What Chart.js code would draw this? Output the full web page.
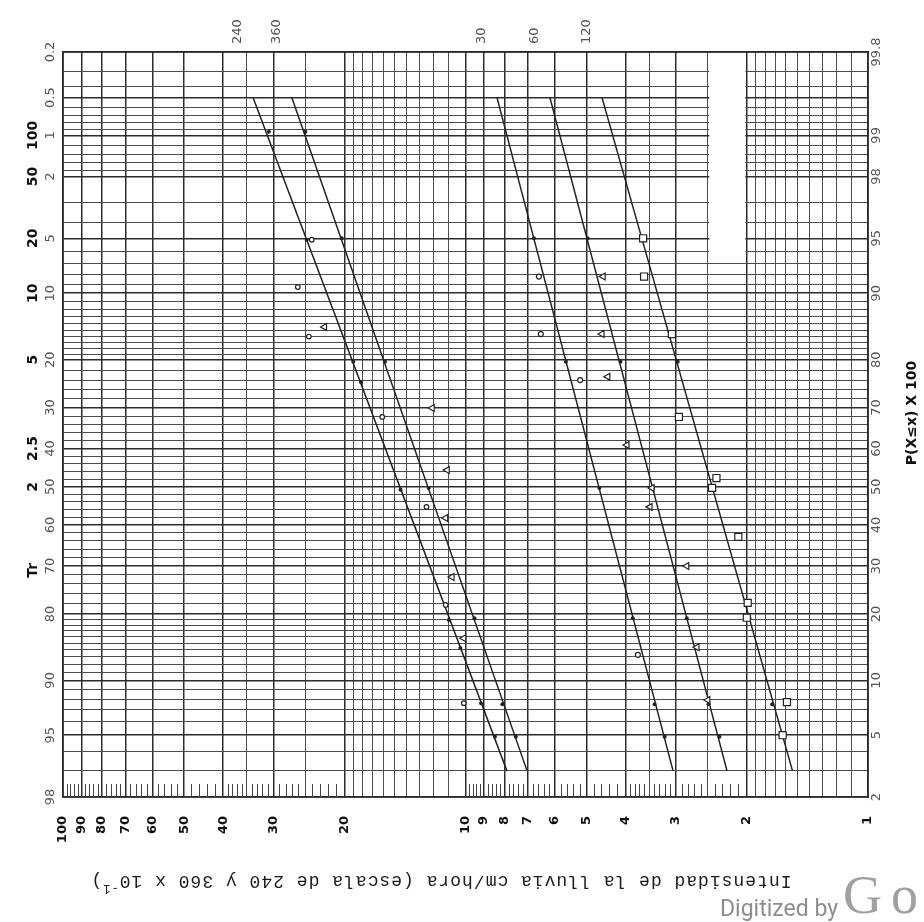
<!DOCTYPE html>
<html>
<head>
<meta charset="utf-8">
<script src="https://cdn.jsdelivr.net/npm/chart.js@4.4.1/dist/chart.umd.min.js"></script>
<style>
  html, body { margin: 0; padding: 0; background: #ffffff; }
  canvas { display: block; }
</style>
</head>
<body>
<canvas id="c" width="924" height="922"></canvas>
<script>
// ---------------- data ----------------
const durations = ['240', '360', '30', '60', '120'];          // minutes (line labels)

// fitted straight lines: intensity (paper scale) at P = 99.5 % and at P = 3 %
const lineProb = [99.5, 3];
const line240 = [33.7, 7.89];
const line360 = [27.0, 7.03];
const line30  = [8.35, 3.05];
const line60  = [6.17, 2.24];
const line120 = [4.58, 1.54];

// solid points lying on the fitted lines
const dot240Val  = [30.8, 24.8, 19.0, 18.2, 14.5, 11.0, 10.3, 9.15, 8.45];
const dot240Prob = [99.06, 94.9, 79.6, 75.6, 49.2, 18.9, 14.3, 7.6, 4.9];
const dot360Val  = [25.0, 20.3, 15.85, 12.35, 9.5, 8.1, 7.5];
const dot360Prob = [99.06, 95.0, 79.6, 49.7, 19.2, 7.5, 4.9];
const dotProb    = [95.0, 79.6, 49.7, 19.2, 7.5, 4.9];
const dot30Val   = [6.76, 5.63, 4.65, 3.84, 3.39, 3.20];
const dot60Val   = [4.97, 4.12, 3.42, 2.82, 2.49, 2.34];
const dot120Val  = [3.63, 2.97, 2.43, 1.97, 1.73, 1.63];

// observed values (open symbols)
const obs240Val  = [24.1, 26.1, 24.5, 16.1, 12.5, 11.2, 10.1];
const obs240Prob = [94.9, 90.7, 84.0, 67.8, 44.7, 21.7, 7.6];
const obs360Val  = [22.4, 12.1, 11.1, 11.2, 10.8, 10.1];
const obs360Prob = [85.5, 69.9, 54.4, 41.8, 27.5, 15.8];
const obs30Val   = [6.57, 6.50, 5.19, 3.73];
const obs30Prob  = [91.8, 84.4, 76.0, 13.3];
const obs60Val   = [4.55, 4.58, 4.43, 3.97, 3.44, 3.48, 2.82, 2.66, 2.50];
const obs60Prob  = [91.8, 84.4, 76.7, 60.9, 49.7, 44.7, 30.0, 14.4, 7.9];
const obs120Val  = [3.62, 3.60, 3.07, 2.95, 2.38, 2.44, 2.10, 1.99, 2.00, 1.59, 1.63];
const obs120Prob = [95.0, 91.8, 84.4, 67.8, 52.3, 49.7, 37.0, 22.1, 19.3, 7.7, 5.0];

// ---------------- axis ticks / paper rulings ----------------
const xGrid = [1, 1.1, 1.2, 1.3, 1.4, 1.5, 1.6, 1.7, 1.8, 1.9, 2, 2.5, 3, 3.5, 4, 5, 6, 7, 8, 9,
               10, 11, 12, 13, 14, 15, 16, 17, 18, 19, 20, 25, 30, 35, 40, 50, 60, 70, 80, 90, 100];
const xLabelVals = [1, 2, 3, 4, 5, 6, 7, 8, 9, 10, 20, 30, 40, 50, 60, 70, 80, 90, 100];
const probGrid = [2, 3, 4, 5, 6, 7, 8, 9, 10, 11, 12, 13, 14, 15, 16, 17, 18, 19, 20,
  22, 24, 26, 28, 30, 32, 34, 36, 38, 40, 42, 44, 46, 48, 50, 52, 54, 56, 58, 60,
  62, 64, 66, 68, 70, 72, 74, 76, 78, 80, 81, 82, 83, 84, 85, 86, 87, 88, 89, 90,
  91, 92, 93, 94, 95, 96, 97, 98, 98.2, 98.4, 98.6, 98.8, 99, 99.1, 99.2, 99.3,
  99.4, 99.5, 99.6, 99.7, 99.8];
const probRightLabels = [2, 5, 10, 20, 30, 40, 50, 60, 70, 80, 90, 95, 98, 99, 99.8];
const probLeftLabels  = [2, 5, 10, 20, 30, 40, 50, 60, 70, 80, 90, 95, 98, 99, 99.5, 99.8];
const trProb   = [99, 98, 95, 90, 80, 60, 50, 29];
const trLabels = ['100', '50', '20', '10', '5', '2.5', '2', 'Tr'];

// ---------------- helpers ----------------
function probit(p) {
  const a = [-3.969683028665376e+01, 2.209460984245205e+02, -2.759285104469687e+02, 1.383577518672690e+02, -3.066479806614716e+01, 2.506628277459239e+00];
  const b = [-5.447609879822406e+01, 1.615858368580409e+02, -1.556989798598866e+02, 6.680131188771972e+01, -1.328068155288572e+01];
  const c = [-7.784894002430293e-03, -3.223964580411365e-01, -2.400758277161838e+00, -2.549732539343734e+00, 4.374664141464968e+00, 2.938163982698783e+00];
  const d = [7.784695709041462e-03, 3.224671290700398e-01, 2.445134137142996e+00, 3.754408661907416e+00];
  const pl = 0.02425, ph = 1 - pl;
  let q, r;
  if (p < pl) {
    q = Math.sqrt(-2 * Math.log(p));
    return (((((c[0]*q+c[1])*q+c[2])*q+c[3])*q+c[4])*q+c[5]) / ((((d[0]*q+d[1])*q+d[2])*q+d[3])*q+1);
  }
  if (p > ph) {
    q = Math.sqrt(-2 * Math.log(1 - p));
    return -(((((c[0]*q+c[1])*q+c[2])*q+c[3])*q+c[4])*q+c[5]) / ((((d[0]*q+d[1])*q+d[2])*q+d[3])*q+1);
  }
  q = p - 0.5; r = q * q;
  return (((((a[0]*r+a[1])*r+a[2])*r+a[3])*r+a[4])*r+a[5])*q / (((((b[0]*r+b[1])*r+b[2])*r+b[3])*r+b[4])*r+1);
}
const Z = p => probit(p / 100);
const pts = (vals, probs) => vals.map((v, i) => ({ x: v, y: Z(probs[i]) }));
const fmt = v => String(+v.toFixed(1));

const zMin = Z(probGrid[0]);
const zMax = Z(probGrid[probGrid.length - 1]);

const INK = '#222222';
const GRID = '#4c4c4c';
const GRID_MAJOR = '#2c2c2c';

Chart.defaults.font.family = "'DejaVu Sans', sans-serif";

// minor ruling ticks along the bottom edge (paper decoration)
const minorTicks = [];
[[2, 4, 0.1], [4, 10, 0.2], [20, 40, 1], [40, 100, 2]].forEach(([a, b, s]) => {
  for (let v = a + s; v < b - 1e-9; v += s) {
    const vv = +v.toFixed(2);
    if (!xGrid.includes(vv)) minorTicks.push(vv);
  }
});

const paperPlugin = {
  id: 'paper',
  beforeDatasetsDraw(chart) {
    const { ctx, chartArea: a, scales } = chart;
    const x = scales.x, y = scales.y;
    ctx.save();
    // blank strip on the scanned sheet
    const xl = x.getPixelForValue(2.5), xr = x.getPixelForValue(2);
    const yb = y.getPixelForValue(Z(93.5));
    ctx.fillStyle = '#ffffff';
    ctx.fillRect(xl + 1.5, a.top + 1, xr - xl - 3, yb - a.top - 1);
    // minor ticks
    ctx.strokeStyle = '#444';
    ctx.lineWidth = 1;
    ctx.beginPath();
    for (const v of minorTicks) {
      const px = Math.round(x.getPixelForValue(v)) + 0.5;
      ctx.moveTo(px, a.bottom);
      ctx.lineTo(px, a.bottom - 13);
    }
    ctx.stroke();
    ctx.restore();
  },
  afterDraw(chart) {
    const { ctx } = chart;
    ctx.save();
    // bottom axis title, printed upside down on the sheet
    ctx.translate(441, 881);
    ctx.rotate(Math.PI);
    ctx.fillStyle = '#1c1c1c';
    ctx.textBaseline = 'middle';
    ctx.textAlign = 'left';
    try { ctx.letterSpacing = '1px'; } catch (e) {}
    const main = 'Intensidad de la lluvia cm/hora (escala de 240 y 360 x 10';
    ctx.font = '18px "Liberation Mono", monospace';
    const w1 = ctx.measureText(main).width;
    const w3 = ctx.measureText(')').width;
    ctx.font = '12px "Liberation Mono", monospace';
    const w2 = ctx.measureText('-1').width;
    const x0 = -(w1 + w2 + w3) / 2;
    ctx.font = '18px "Liberation Mono", monospace';
    ctx.fillText(main, x0, 0);
    ctx.font = '12px "Liberation Mono", monospace';
    ctx.fillText('-1', x0 + w1, -7);
    ctx.font = '18px "Liberation Mono", monospace';
    ctx.fillText(')', x0 + w1 + w2, 0);
    ctx.restore();

    // right axis title
    ctx.save();
    ctx.translate(912, 413);
    ctx.rotate(-Math.PI / 2);
    ctx.fillStyle = '#111';
    ctx.font = 'bold 14px "DejaVu Sans"';
    ctx.textAlign = 'center';
    ctx.textBaseline = 'middle';
    ctx.fillText('P(X≤x) X 100', 0, 0);
    ctx.restore();

    // scan watermark
    ctx.save();
    ctx.fillStyle = '#8d8d8d';
    ctx.font = '23px Roboto, "Liberation Sans", sans-serif';
    ctx.textBaseline = 'alphabetic';
    ctx.textAlign = 'left';
    ctx.fillText('Digitized by', 720, 916);
    ctx.fillStyle = '#a0a0a0';
    ctx.font = '54px "Liberation Serif", serif';
    try { ctx.letterSpacing = '9px'; } catch (e) {}
    ctx.fillText('Google', 843, 913);
    ctx.restore();
  }
};

const openSym = (data, style, r, rot) => ({
  data, showLine: false, pointStyle: style, pointRadius: r, pointRotation: rot || 0,
  backgroundColor: '#ffffff', borderColor: INK, borderWidth: 1.2, pointBorderWidth: 1.2
});
const dotSym = data => ({
  data, showLine: false, pointStyle: 'circle', pointRadius: 2,
  backgroundColor: INK, borderColor: INK, borderWidth: 0
});
const fitLine = data => ({
  data, showLine: true, pointRadius: 0, borderColor: INK, borderWidth: 1.5, fill: false
});

const datasets = [
  openSym(pts(obs240Val, obs240Prob), 'circle', 2.3),
  openSym(pts(obs360Val, obs360Prob), 'triangle', 4, -90),
  openSym(pts(obs30Val, obs30Prob), 'circle', 2.5),
  openSym(pts(obs60Val, obs60Prob), 'triangle', 4, -90),
  openSym(pts(obs120Val, obs120Prob), 'rect', 5),
  dotSym(pts(dot240Val, dot240Prob)),
  dotSym(pts(dot360Val, dot360Prob)),
  dotSym(pts(dot30Val, dotProb)),
  dotSym(pts(dot60Val, dotProb)),
  dotSym(pts(dot120Val, dotProb)),
  fitLine(pts(line240, lineProb)),
  fitLine(pts(line360, lineProb)),
  fitLine(pts(line30, lineProb)),
  fitLine(pts(line60, lineProb)),
  fitLine(pts(line120, lineProb))
];
datasets.forEach((d, i) => { d.label = 'ds' + i; });

const topTickVals = [line240[0], line360[0], line30[0], line60[0], line120[0]];

new Chart(document.getElementById('c'), {
  type: 'scatter',
  data: { datasets },
  options: {
    responsive: false,
    devicePixelRatio: 1,
    animation: false,
    events: [],
    layout: { padding: 0 },
    plugins: { legend: { display: false }, tooltip: { enabled: false }, title: { display: false } },
    scales: {
      x: {
        type: 'logarithmic', position: 'bottom', reverse: true, min: 1, max: 100,
        afterBuildTicks: s => { s.ticks = xGrid.map(v => ({ value: v })); },
        afterFit: s => { s.height = 125; },
        ticks: {
          autoSkip: false, minRotation: 90, maxRotation: 90, padding: 19,
          color: '#111', font: { size: 13, weight: 'bold' },
          callback: v => xLabelVals.includes(v) ? String(v) : ''
        },
        grid: {
          drawTicks: false,
          color: c => xLabelVals.includes(c.tick.value) ? GRID_MAJOR : GRID,
          lineWidth: c => xLabelVals.includes(c.tick.value) ? 1.5 : 1
        },
        border: { display: true, color: '#2a2a2a', width: 1.8 }
      },
      xTop: {
        type: 'logarithmic', position: 'top', reverse: true, min: 1, max: 100,
        afterBuildTicks: s => { s.ticks = topTickVals.map(v => ({ value: v })); },
        afterFit: s => { s.height = 52; },
        ticks: {
          autoSkip: false, minRotation: 90, maxRotation: 90, padding: 8,
          color: '#555', font: { size: 13 },
          callback: (v, i) => durations[i]
        },
        grid: { display: false, drawTicks: false },
        border: { display: true, color: '#2a2a2a', width: 1.8 }
      },
      y: {
        type: 'linear', position: 'left', min: zMin, max: zMax, weight: 0,
        afterBuildTicks: s => { s.ticks = probGrid.map(p => ({ value: Z(p) })); },
        afterFit: s => { s.width = 21; },
        ticks: {
          autoSkip: false, minRotation: 90, maxRotation: 90, crossAlign: 'center', padding: 2,
          color: '#555', font: { size: 13 },
          callback: (v, i) => probLeftLabels.includes(probGrid[i]) ? fmt(100 - probGrid[i]) : ''
        },
        grid: {
          drawTicks: false,
          color: c => (probLeftLabels.includes(probGrid[c.index]) ? GRID_MAJOR : GRID),
          lineWidth: c => (probLeftLabels.includes(probGrid[c.index]) ? 1.5 : 1)
        },
        border: { display: true, color: '#2a2a2a', width: 1.8 }
      },
      yT: {
        type: 'linear', position: 'left', min: zMin, max: zMax, weight: 1,
        afterBuildTicks: s => { s.ticks = trProb.map(p => ({ value: Z(p) })); },
        afterFit: s => { s.width = 42; },
        ticks: {
          autoSkip: false, minRotation: 90, maxRotation: 90, crossAlign: 'center', padding: -5.6,
          color: '#111', font: { size: 14, weight: 'bold' },
          callback: (v, i) => trLabels[i]
        },
        grid: { display: false, drawTicks: false },
        border: { display: false }
      },
      yR: {
        type: 'linear', position: 'right', min: zMin, max: zMax,
        afterBuildTicks: s => { s.ticks = probRightLabels.map(p => ({ value: Z(p) })); },
        afterFit: s => { s.width = 56; },
        ticks: {
          autoSkip: false, minRotation: 90, maxRotation: 90, crossAlign: 'center', padding: -5.45,
          color: '#555', font: { size: 13 },
          callback: (v, i) => fmt(probRightLabels[i])
        },
        grid: { display: false, drawTicks: false },
        border: { display: true, color: '#2a2a2a', width: 1.8 }
      }
    }
  },
  plugins: [paperPlugin]
});
</script>
</body>
</html>
